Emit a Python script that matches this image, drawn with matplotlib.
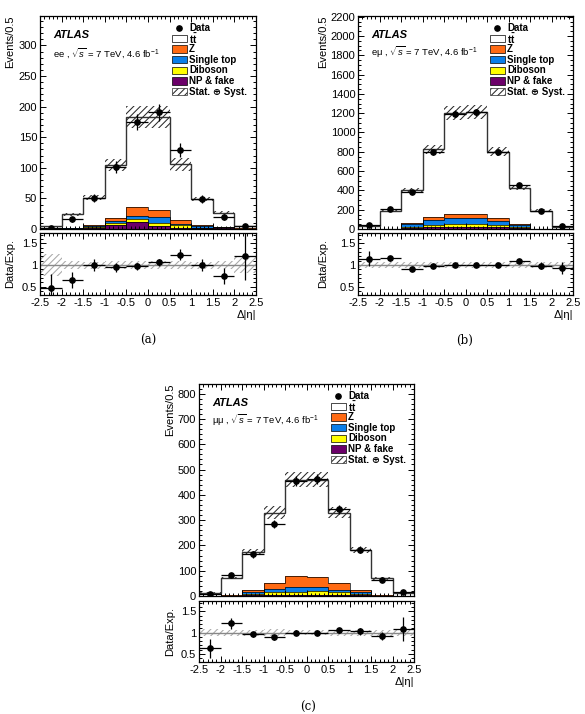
import numpy as np
import matplotlib
matplotlib.use('Agg')
import matplotlib.pyplot as plt
from matplotlib.ticker import MultipleLocator, AutoMinorLocator
from matplotlib.patches import Rectangle
from matplotlib.lines import Line2D

plt.rcParams['font.family'] = ['Liberation Sans', 'DejaVu Sans']
plt.rcParams['mathtext.fontset'] = 'custom'
plt.rcParams['mathtext.rm'] = 'Liberation Sans'
plt.rcParams['mathtext.it'] = 'Liberation Sans:italic'
plt.rcParams['mathtext.bf'] = 'Liberation Sans:bold'
plt.rcParams['axes.unicode_minus'] = False
plt.rcParams['hatch.linewidth'] = 0.75

# --- binning (delta |eta|) ---
bin_edges = [-2.5, -2.0, -1.5, -1.0, -0.5, 0.0, 0.5, 1.0, 1.5, 2.0, 2.5]
bin_centers = [-2.25, -1.75, -1.25, -0.75, -0.25, 0.25, 0.75, 1.25, 1.75, 2.25]
x_ticks = [-2.5, -2.0, -1.5, -1.0, -0.5, 0.0, 0.5, 1.0, 1.5, 2.0, 2.5]
x_tick_labels = ['-2.5', '-2', '-1.5', '-1', '-0.5', '0', '0.5', '1', '1.5', '2', '2.5']

# --- ee kanali ---
ee_ttbar = [3.1, 22.4, 44.5, 87, 147, 152, 92, 43, 22.5, 3.2]
ee_z = [0.3, 0.5, 2, 4.5, 14, 12, 5.5, 1, 1, 0.3]
ee_single_top = [0.2, 0.3, 1.5, 4.5, 6, 9, 2, 3, 0.5, 0.2]
ee_diboson = [0.2, 0.3, 1, 3, 4, 5, 5, 1, 0.5, 0.2]
ee_fake = [0.5, 0.5, 2, 6, 12, 5, 1.5, 1, 2, 0.3]
ee_data = [2, 16, 51, 101, 175, 191, 129, 49, 20, 5]
ee_data_err = [1.4, 4, 7, 10, 13, 14, 11, 7, 4.5, 2.2]
ee_ratio = [0.46, 0.65, 1.0, 0.95, 0.97, 1.06, 1.24, 1.0, 0.75, 1.2]
ee_ratio_err = [0.34, 0.18, 0.14, 0.1, 0.08, 0.07, 0.12, 0.14, 0.18, 0.55]
ee_rel_unc = [0.25, 0.09, 0.08, 0.09, 0.1, 0.1, 0.1, 0.08, 0.09, 0.19]

# --- e-mu kanali ---
em_ttbar = [32, 180, 338, 705, 1049, 1052, 690, 376, 186, 22]
em_z = [0.5, 1, 8, 28, 45, 46, 31, 7, 1, 0.5]
em_single_top = [1, 2, 30, 48, 58, 58, 36, 25, 2, 1]
em_diboson = [0.5, 1, 12, 24, 31, 30, 25, 10, 1, 0.5]
em_fake = [1, 1, 12, 20, 24, 24, 18, 10, 1, 1]
em_data = [40, 208, 385, 795, 1195, 1210, 800, 455, 185, 30]
em_data_err = [6, 14, 20, 28, 35, 35, 28, 21, 14, 5.5]
em_ratio = [1.15, 1.16, 0.91, 0.97, 1.0, 1.0, 1.0, 1.09, 0.99, 0.94]
em_ratio_err = [0.18, 0.06, 0.04, 0.03, 0.03, 0.03, 0.03, 0.05, 0.07, 0.14]
em_rel_unc = [0.07, 0.06, 0.06, 0.06, 0.06, 0.06, 0.06, 0.06, 0.06, 0.07]

# --- mu-mu kanali ---
mm_ttbar = [11.7, 69, 153, 279, 382, 385, 279, 160, 67, 11.7]
mm_z = [0.5, 1.5, 8, 24, 42, 41, 28, 8, 1.5, 0.5]
mm_single_top = [0.2, 0.5, 5, 12, 20, 16, 8, 5, 0.5, 0.2]
mm_diboson = [0.3, 0.5, 6, 12, 12, 14, 12, 6, 0.5, 0.3]
mm_fake = [0.3, 0.5, 3, 3, 4, 4, 3, 3, 0.5, 0.3]
mm_data = [9, 83, 165, 284, 455, 462, 342, 183, 62, 15]
mm_data_err = [3, 9, 13, 17, 21, 21, 18, 13.5, 8, 4]
mm_ratio = [0.63, 1.22, 0.955, 0.89, 1.0, 1.0, 1.05, 1.03, 0.92, 1.08]
mm_ratio_err = [0.23, 0.13, 0.07, 0.06, 0.05, 0.05, 0.06, 0.08, 0.1, 0.28]
mm_rel_unc = [0.08, 0.07, 0.07, 0.075, 0.065, 0.065, 0.07, 0.07, 0.07, 0.08]

# renkler (ROOT benzeri)
c_ttbar = 'white'
c_z = '#ff6a13'
c_single_top = '#0a7ee8'
c_diboson = '#ffff00'
c_fake = '#6b0069'

W, H = 585, 714


def px_rect(left, top, right, bottom):
    """Piksel kutusunu figür oranına çevirir."""
    return [left / W, 1 - bottom / H, (right - left) / W, (bottom - top) / H]


def style_axis(ax):
    ax.tick_params(which='both', direction='in', top=True, right=True,
                   labelsize=8, width=0.7, pad=2)
    ax.tick_params(which='major', length=4.5)
    ax.tick_params(which='minor', length=2.3)
    for s in ax.spines.values():
        s.set_linewidth(0.9)


def draw_channel(fig, main_px, ratio_px, layers, data, data_err, ratio, ratio_err,
                 rel_unc, ymax, ymajor, yminor_n, chan_text, ylab_x, caption, caption_xy):
    ax = fig.add_axes(px_rect(*main_px))
    rax = fig.add_axes(px_rect(*ratio_px))

    # yigilmis histogram: alttan uste NP, Diboson, Single top, Z, ttbar
    stack = np.zeros(len(bin_centers))
    cumulative = []
    for values, color in layers:
        stack = stack + np.array(values)
        cumulative.append((stack.copy(), color))
    total = cumulative[-1][0]
    for cum, color in reversed(cumulative):
        ax.stairs(cum, bin_edges, baseline=0, fill=True, facecolor=color, zorder=1)
        edge = '#333333' if color == c_ttbar else 'black'
        ax.stairs(cum, bin_edges, baseline=None, color=edge,
                  linewidth=1.0 if color == c_ttbar else 0.5, zorder=2)

    # belirsizlik bandi
    unc = np.array(rel_unc)
    ax.bar(bin_centers, 2 * unc * total, bottom=total * (1 - unc), width=0.5,
           facecolor='none', edgecolor='#2a2a2a', hatch='/////', linewidth=0, zorder=3)

    ax.errorbar(bin_centers, data, yerr=data_err, xerr=0.25, fmt='o', color='black',
                ms=3.8, elinewidth=0.9, capsize=0, zorder=5)

    ax.set_xlim(-2.5, 2.5)
    ax.set_ylim(0, ymax)
    ax.xaxis.set_major_locator(MultipleLocator(0.5))
    ax.xaxis.set_minor_locator(AutoMinorLocator(5))
    ax.yaxis.set_major_locator(MultipleLocator(ymajor))
    ax.yaxis.set_minor_locator(AutoMinorLocator(yminor_n))
    ax.set_xticklabels([])
    style_axis(ax)
    ax.set_ylabel('Events/0.5', fontsize=8, loc='top')
    ax.yaxis.set_label_coords(ylab_x, 1.0)

    ax.text(0.06, 0.911, 'ATLAS', transform=ax.transAxes, fontsize=8,
            fontweight='bold', fontstyle='italic', va='center')
    ax.text(0.06, 0.828, chan_text + r' , $\sqrt{s}$ = 7 TeV, 4.6 fb$^{-1}$',
            transform=ax.transAxes, fontsize=6.8, va='center')

    # lejant (elle yerlestirilmis)
    leg_rows = [('Data', 'data'), (r'$\mathbf{t\bar{t}}$', c_ttbar), ('Z', c_z),
                ('Single top', c_single_top), ('Diboson', c_diboson),
                ('NP & fake', c_fake), ('Stat. \u2295 Syst.', 'hatch')]
    axh = main_px[3] - main_px[1]
    axw = main_px[2] - main_px[0]
    for i, (label, kind) in enumerate(leg_rows):
        yc = 1 - (11.7 + i * 10.67) / axh
        bx0, bw, bh = 132 / axw, 14.5 / axw, 7.5 / axh
        if kind == 'data':
            ax.add_line(Line2D([bx0 + bw / 2], [yc], marker='o', color='black', ms=3.8,
                               ls='none', transform=ax.transAxes))
        elif kind == 'hatch':
            ax.add_patch(Rectangle((bx0, yc - bh / 2), bw, bh, transform=ax.transAxes,
                                   facecolor='none', edgecolor='#2a2a2a', hatch='/////',
                                   linewidth=0.5))
        else:
            ax.add_patch(Rectangle((bx0, yc - bh / 2), bw, bh, transform=ax.transAxes,
                                   facecolor=kind, edgecolor='black', linewidth=0.5))
        ax.text(bx0 + bw + 2.5 / axw, yc, label, transform=ax.transAxes, fontsize=7,
                fontweight='bold', va='center')

    # oran paneli
    rax.bar(bin_centers, 2 * unc, bottom=1 - unc, width=0.5, facecolor='none',
            edgecolor='#a8a8a8', hatch='/////', linewidth=0, zorder=1)
    rax.axhline(1.0, color='#888888', linewidth=1.0, zorder=2)
    rax.errorbar(bin_centers, ratio, yerr=ratio_err, xerr=0.25, fmt='o', color='black',
                 ms=3.8, elinewidth=0.9, capsize=0, zorder=5)
    rax.set_xlim(-2.5, 2.5)
    rax.set_ylim(0.31, 1.74)
    rax.set_xticks(x_ticks)
    rax.set_xticklabels(x_tick_labels)
    rax.xaxis.set_minor_locator(AutoMinorLocator(5))
    rax.yaxis.set_major_locator(MultipleLocator(0.5))
    rax.yaxis.set_minor_locator(AutoMinorLocator(5))
    rax.set_yticks([0.5, 1.0, 1.5])
    rax.set_yticklabels(['0.5', '1', '1.5'])
    style_axis(rax)
    rax.set_ylabel('Data/Exp.', fontsize=8)
    rax.yaxis.set_label_coords(ylab_x, 0.5)
    rax.set_xlabel('\u0394|\u03b7|', fontsize=8, loc='right')
    rax.xaxis.set_label_coords(1.0, -0.25)

    fig.text(caption_xy[0] / W, 1 - caption_xy[1] / H, caption, ha='center', va='center',
             fontsize=8.5, family='DejaVu Serif')


fig = plt.figure(figsize=(5.85, 7.14), dpi=100)

draw_channel(fig, (40, 16, 256, 229), (40, 233, 256, 295),
             [(ee_fake, c_fake), (ee_diboson, c_diboson), (ee_single_top, c_single_top),
              (ee_z, c_z), (ee_ttbar, c_ttbar)],
             ee_data, ee_data_err, ee_ratio, ee_ratio_err, ee_rel_unc,
             348, 50, 5, 'ee', -0.115, '(a)', (148, 340))

draw_channel(fig, (358, 16, 573, 229), (358, 233, 573, 295),
             [(em_fake, c_fake), (em_diboson, c_diboson), (em_single_top, c_single_top),
              (em_z, c_z), (em_ttbar, c_ttbar)],
             em_data, em_data_err, em_ratio, em_ratio_err, em_rel_unc,
             2207, 200, 4, 'e\u03bc', -0.14, '(b)', (465, 340))

draw_channel(fig, (199, 384, 414, 596), (199, 601, 414, 662),
             [(mm_fake, c_fake), (mm_diboson, c_diboson), (mm_single_top, c_single_top),
              (mm_z, c_z), (mm_ttbar, c_ttbar)],
             mm_data, mm_data_err, mm_ratio, mm_ratio_err, mm_rel_unc,
             838, 100, 5, '\u03bc\u03bc', -0.11, '(c)', (308, 707))

fig.savefig('out.png', dpi=100)
